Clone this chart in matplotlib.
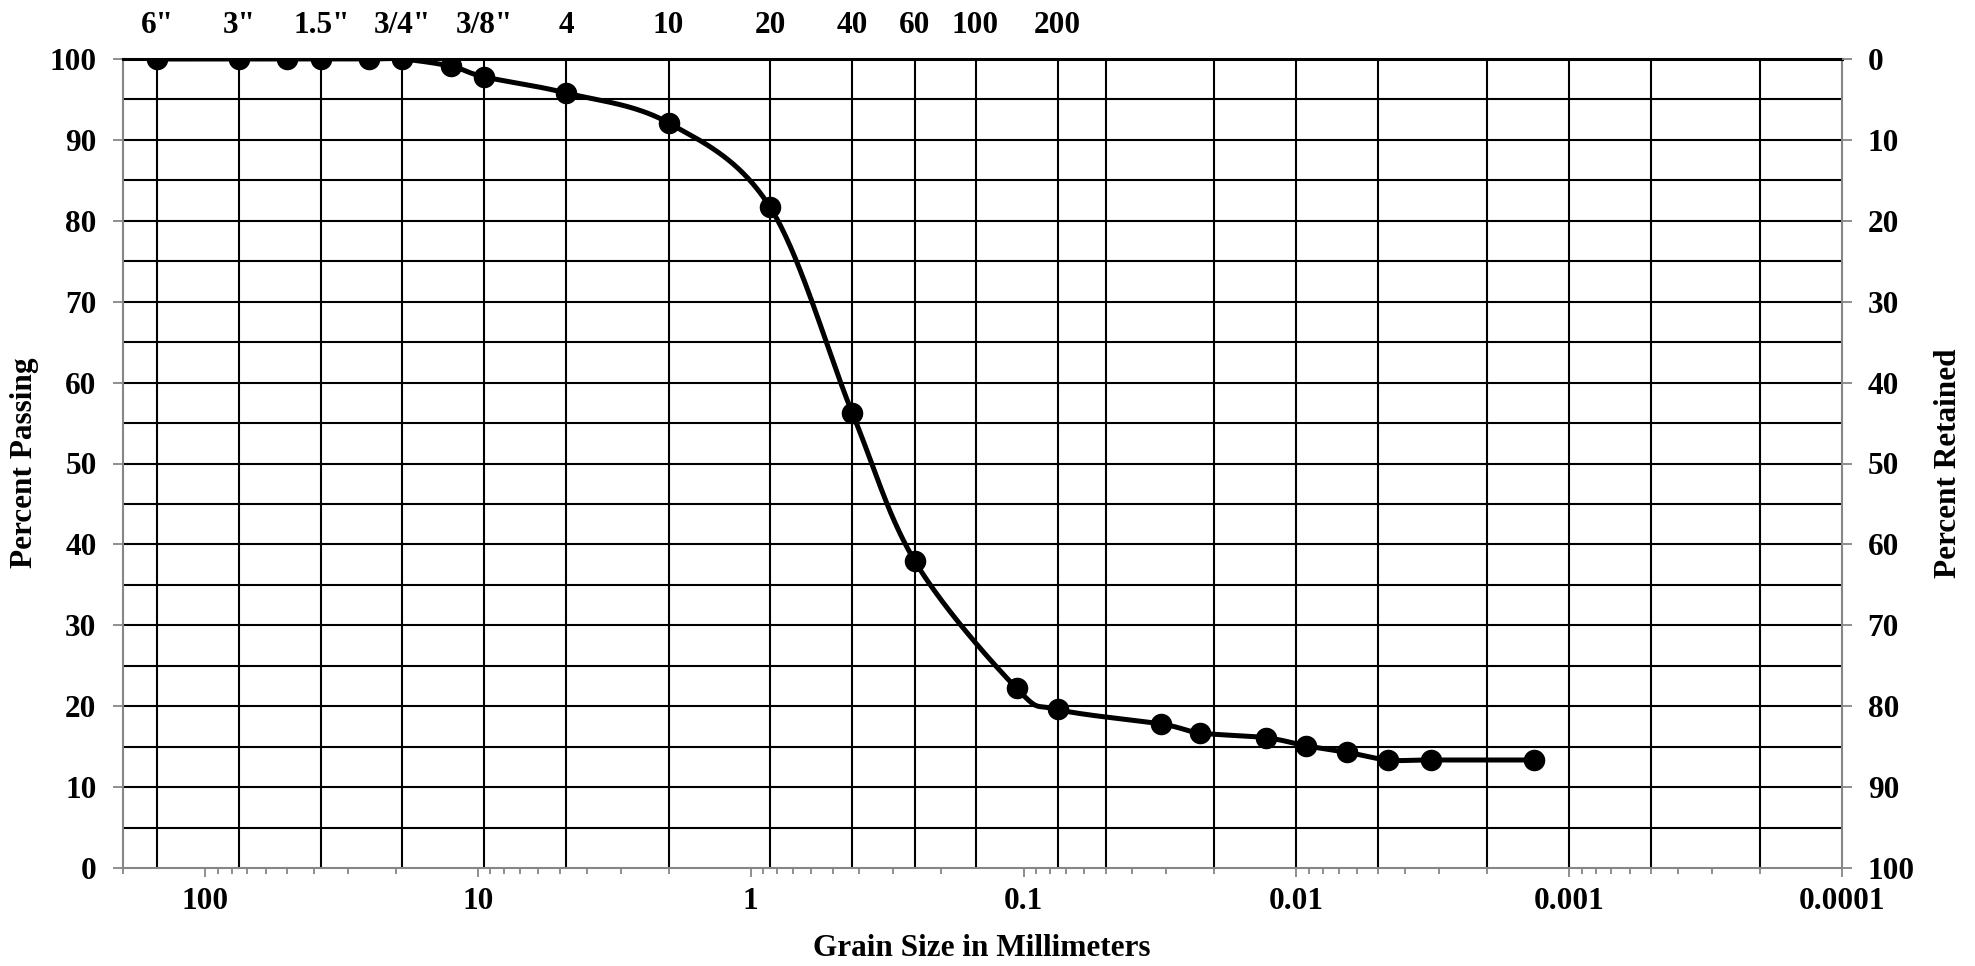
import numpy as np
import matplotlib
matplotlib.use("Agg")
import matplotlib.pyplot as plt
from matplotlib.ticker import FixedLocator, LogLocator, NullFormatter, NullLocator

# sieve + hydrometer results
grain_mm = [150, 75, 50, 37.5, 25, 19, 12.5, 9.5, 4.75, 2.0, 0.85, 0.425, 0.25,
            0.106, 0.075, 0.0313, 0.0226, 0.0129, 0.0092, 0.0065, 0.0046, 0.0032, 0.00135]
passing = [100, 100, 100, 100, 100, 100, 99.1, 97.8, 95.8, 92.1, 81.7, 56.3, 37.9,
           22.2, 19.6, 17.8, 16.7, 16.1, 15.1, 14.3, 13.35, 13.35, 13.35]

sieve_names = ['6"', '3"', '1.5"', '3/4"', '3/8"', '4', '10', '20', '40', '60', '100', '200']
sieve_mm = [150, 75, 37.5, 19, 9.5, 4.75, 2.0, 0.85, 0.425, 0.25, 0.15, 0.075]
hydro_grid_mm = [0.05, 0.02, 0.01, 0.005, 0.002, 0.001, 0.0005, 0.0002]
decades = [100, 10, 1, 0.1, 0.01, 0.001, 0.0001]
decade_labels = ["100", "10", "1", "0.1", "0.01", "0.001", "0.0001"]
pct_ticks = list(range(0, 101, 10))

FONT = "Liberation Serif"
FS = 22.5
GRAY = "#868686"
plt.rcParams["font.family"] = [FONT, "DejaVu Serif"]
plt.rcParams["font.weight"] = "bold"


def smooth(x, y, n=40):
    # catmull-rom through the points, in log-x space (like Excel's smoothed line)
    p = np.column_stack([np.log10(x), y])
    p = np.vstack([p[0], p, p[-1]])
    t = np.linspace(0, 1, n, endpoint=False)[:, None]
    h00 = 2 * t**3 - 3 * t**2 + 1
    h10 = t**3 - 2 * t**2 + t
    h01 = -2 * t**3 + 3 * t**2
    h11 = t**3 - t**2
    segs = []
    for i in range(1, len(p) - 2):
        m1 = (p[i + 1] - p[i - 1]) / 2
        m2 = (p[i + 2] - p[i]) / 2
        segs.append(h00 * p[i] + h10 * m1 + h01 * p[i + 1] + h11 * m2)
    segs.append(p[-2][None, :])
    c = np.vstack(segs)
    return 10 ** c[:, 0], c[:, 1]


fig = plt.figure(figsize=(19.75, 9.66), dpi=100)
W, H = 1975, 966
ax = fig.add_axes([123 / W, 1 - 868 / H, (1842 - 123) / W, (868 - 59) / H])

ax.set_xscale("log")
ax.set_xlim(200, 0.0001)
ax.set_ylim(0, 100)

# grid
for yv in range(5, 100, 5):
    ax.axhline(yv, color="black", lw=1.5, zorder=1)
ax.vlines(sieve_mm + hydro_grid_mm, 0, 100, color="black", lw=1.5, zorder=1)

sx, sy = smooth(grain_mm, passing)
ax.plot(sx, sy, color="black", lw=3.6, zorder=3, solid_capstyle="round")
ax.plot(grain_mm, passing, "o", color="black", ms=14.5, zorder=4)

for s in ["left", "right", "bottom"]:
    ax.spines[s].set_color(GRAY)
    ax.spines[s].set_linewidth(1.5)
ax.spines["top"].set_color("black")
ax.spines["top"].set_linewidth(2.2)

ax.xaxis.set_major_locator(FixedLocator(decades))
ax.set_xticklabels(decade_labels)
ax.xaxis.set_minor_locator(LogLocator(base=10, subs=np.arange(2, 10)))
ax.xaxis.set_minor_formatter(NullFormatter())
ax.set_yticks(pct_ticks)
ax.tick_params(axis="x", which="major", direction="out", length=6.5, width=1.3,
               color=GRAY, labelsize=FS, pad=7)
ax.tick_params(axis="x", which="minor", direction="out", length=4.3, width=1.3, color=GRAY)
ax.tick_params(axis="y", direction="out", length=7, width=1.3, color=GRAY,
               labelsize=FS, pad=12)

# percent retained on the right
ax_r = ax.twinx()
ax_r.set_ylim(100, 0)
ax_r.set_yticks(pct_ticks)
ax_r.tick_params(axis="y", direction="out", length=7, width=1.3, color=GRAY,
                 labelsize=FS, pad=11.5)
for s in ax_r.spines.values():
    s.set_visible(False)

# sieve numbers along the top
ax_t = ax.twiny()
ax_t.set_xscale("log")
ax_t.set_xlim(200, 0.0001)
ax_t.xaxis.set_major_locator(FixedLocator(sieve_mm))
ax_t.set_xticklabels(sieve_names)
ax_t.xaxis.set_minor_locator(NullLocator())
ax_t.tick_params(axis="x", length=0, labelsize=FS, pad=14)
for s in ax_t.spines.values():
    s.set_visible(False)

fig.text(982 / W, 1 - 948 / H, "Grain Size in Millimeters", ha="center", va="center",
         fontsize=FS, fontweight="bold")
fig.text(25 / W, 1 - 463 / H, "Percent Passing", ha="center", va="center",
         rotation=90, fontsize=FS, fontweight="bold")
fig.text(1949 / W, 1 - 463 / H, "Percent Retained", ha="center", va="center",
         rotation=90, fontsize=FS, fontweight="bold")

fig.savefig("out.png", dpi=100)
